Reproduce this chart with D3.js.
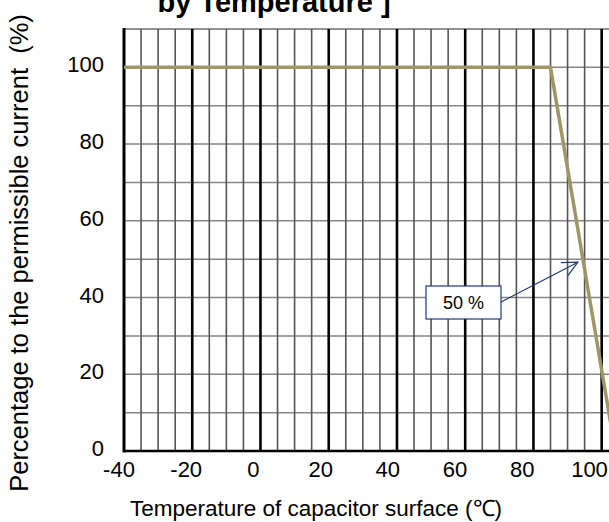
<!DOCTYPE html>
<html>
<head>
<meta charset="utf-8">
<script src="https://cdn.jsdelivr.net/npm/d3@7"></script>
<style>
html,body{margin:0;padding:0;background:#fff;overflow:hidden;}
text{font-family:Arial,"Liberation Sans",sans-serif;white-space:pre;}
</style>
</head>
<body>
<svg id="chart" width="609" height="522"></svg>
<script>
// ---- data ----
const curveTemps = [-40, 85, 104];
const curvePercents = [100, 100, 0];
const xTickValues = [-40, -20, 0, 20, 40, 60, 80, 100];
const yTickValues = [0, 20, 40, 60, 80, 100];
const annotationLabel = ["50 %"];
const annotationPoint = [94.5, 50];
const titleText = ["by Temperature ]"];
const xTitle = ["Temperature of capacitor surface (\u2103)"];
const yTitle = ["Percentage to the permissible current  (%)"];

const svg = d3.select("#chart");
const plotL = 124, plotT = 29, plotB = 451;
const pxPerUnit = 68.24 / 20;
const xMin = -40, xMax = 110;
const x = d3.scaleLinear().domain([xMin, xMax]).range([plotL, plotL + (xMax - xMin) * pxPerUnit]);
const y = d3.scaleLinear().domain([0, 110]).range([plotB, plotT]);
// label placement scale (labels sit slightly left of their grid lines)
const xLabel = d3.scaleLinear().domain([-40, 100]).range([119, 589.5]);

// horizontal grid every 10
const g = svg.append("g");
g.selectAll("line.h").data(d3.range(10, 111, 10)).join("line")
  .attr("x1", plotL).attr("x2", 609)
  .attr("y1", d => y(d)).attr("y2", d => y(d))
  .attr("stroke", d => d === 110 ? "#6e6e6e" : "#858585")
  .attr("stroke-width", 1.5);

// vertical minor every 5
const minor = d3.range(-35, 111, 5).filter(v => v % 20 !== 0);
g.selectAll("line.vm").data(minor).join("line")
  .attr("x1", d => x(d)).attr("x2", d => x(d))
  .attr("y1", plotT).attr("y2", plotB)
  .attr("stroke", "#555").attr("stroke-width", 1.6);

// vertical major every 20
g.selectAll("line.vM").data(xTickValues.slice(1)).join("line")
  .attr("x1", d => x(d)).attr("x2", d => x(d))
  .attr("y1", plotT).attr("y2", plotB)
  .attr("stroke", "#000").attr("stroke-width", 2.6);

// axes lines
g.append("line").attr("x1", plotL).attr("x2", plotL).attr("y1", plotT - 1).attr("y2", plotB + 1.5)
  .attr("stroke", "#000").attr("stroke-width", 3);
g.append("line").attr("x1", plotL).attr("x2", 609).attr("y1", plotB).attr("y2", plotB)
  .attr("stroke", "#000").attr("stroke-width", 2.5);

// curve
const pts = curveTemps.map((t, i) => [t, curvePercents[i]]);
svg.append("path")
  .attr("d", d3.line().x(d => x(d[0])).y(d => y(d[1]))(pts))
  .attr("fill", "none").attr("stroke", "#9f9665").attr("stroke-width", 3.5)
  .attr("stroke-linejoin", "miter");

// tick labels
svg.selectAll("text.yt").data(yTickValues).join("text")
  .attr("x", 104).attr("y", d => y(d) + 5)
  .attr("text-anchor", "end").attr("font-size", 22).text(d => d);
svg.selectAll("text.xt").data(xTickValues).join("text")
  .attr("x", d => xLabel(d)).attr("y", 477)
  .attr("text-anchor", "middle").attr("font-size", 22).text(d => d);

// titles
svg.append("text").attr("x", 274).attr("y", 12).attr("text-anchor", "middle")
  .attr("font-size", 29).attr("font-weight", "bold").text(titleText[0]);
svg.append("text").attr("x", 316).attr("y", 516).attr("text-anchor", "middle")
  .attr("font-size", 22.5).text(xTitle[0]);
svg.append("text").attr("transform", "translate(28,253) rotate(-90)")
  .attr("text-anchor", "middle").attr("font-size", 25.5).text(yTitle[0]);

// annotation
const boxX = 426, boxY = 286, boxW = 75, boxH = 33;
const navy = "#1f3b7a";
svg.append("rect").attr("x", boxX).attr("y", boxY).attr("width", boxW).attr("height", boxH)
  .attr("fill", "#fff").attr("stroke", navy).attr("stroke-width", 1.2);
svg.append("text").attr("x", boxX + boxW / 2).attr("y", boxY + boxH / 2 + 6.5)
  .attr("text-anchor", "middle").attr("font-size", 18).text(annotationLabel[0]);
const tipX = x(annotationPoint[0]) - 5, tipY = y(annotationPoint[1]) + 3;
const sx = boxX + boxW, sy = boxY + 16;
svg.append("line").attr("x1", sx).attr("y1", sy).attr("x2", tipX).attr("y2", tipY)
  .attr("stroke", navy).attr("stroke-width", 1.2);
const ang = Math.atan2(tipY - sy, tipX - sx);
const L = 17, spread = 0.45;
svg.append("path")
  .attr("d", `M${tipX - L * Math.cos(ang - spread)},${tipY - L * Math.sin(ang - spread)} L${tipX},${tipY} L${tipX - L * Math.cos(ang + spread)},${tipY - L * Math.sin(ang + spread)}`)
  .attr("fill", "none").attr("stroke", navy).attr("stroke-width", 1.2);
</script>
</body>
</html>
